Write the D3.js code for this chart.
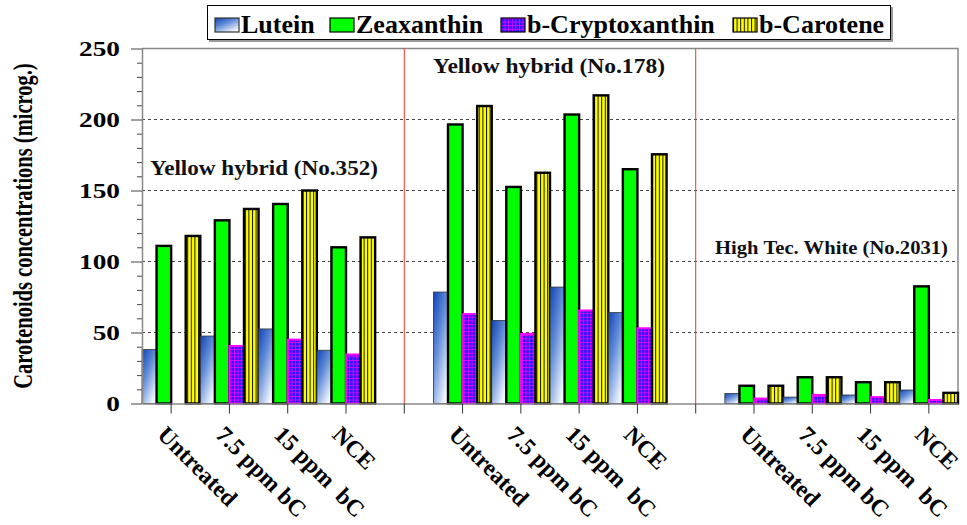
<!DOCTYPE html>
<html>
<head>
<meta charset="utf-8">
<script src="https://cdn.jsdelivr.net/npm/d3@7"></script>
<style>
    body { margin: 0; background: #fff; }
    svg { display: block; font-family: "Liberation Serif", "Times New Roman", serif; font-weight: bold; }
    text { white-space: pre; }
</style>
</head>
<body>
<svg width="967" height="525"></svg>
<script>
// chart data
const groups = ['Yellow hybrid (No.352)', 'Yellow hybrid (No.178)', 'High Tec. White (No.2031)']
const treatments = ['Untreated', '7.5 ppm bC', '15 ppm  bC', 'NCE']
const seriesNames = ['Lutein', 'Zeaxanthin', 'b-Cryptoxanthin', 'b-Carotene']

// one value per group x treatment (group-major order)
const lutein        = [38, 47.5, 52.5, 37.5,   78.5, 58.5, 82, 64,        7, 4.5, 6, 9.5]
const zeaxanthin    = [111, 129, 140.5, 110,   196.5, 152.5, 203.5, 165,  12.5, 18.5, 15, 82.5]
const cryptoxanthin = [0, 40.5, 45, 34.5,      63, 49, 65.5, 53,          3.5, 6, 4.5, 2.5]
const carotene      = [118, 137, 150, 117,     209.5, 162.5, 217, 175.5,  12.5, 18.5, 15, 7.5]

const yTicks = [0, 50, 100, 150, 200, 250]
const gridValues = [50, 100, 150, 200]

let svg = d3.select('svg')
let plot = { left: 142, right: 958, top: 48.5, bottom: 403.5 }

// 4 treatments per hybrid, with an empty slot between hybrids
let slots = []
groups.forEach((g, gi) => {
    treatments.forEach((t, ti) => {
        let i = gi * 4 + ti
        slots.push({
            key: `${gi}-${ti}`,
            label: t,
            values: [lutein[i], zeaxanthin[i], cryptoxanthin[i], carotene[i]]
        })
    })
    if (gi < groups.length - 1) slots.push({ key: `gap-${gi}`, label: '', gap: true, values: [] })
})

let scale = {
    x: d3.scaleBand().domain(slots.map(d => d.key)).range([plot.left, plot.right]).padding(0),
    y: d3.scaleLinear().domain([0, 250]).range([plot.bottom, plot.top])
}
scale.s = d3.scaleBand().domain(seriesNames).range([0, scale.x.bandwidth()])

// fills
let defs = svg.append('defs')
let grad = defs.append('linearGradient').attr('id', 'lutein-fill')
    .attr('x1', 0).attr('y1', 0).attr('x2', 0.7).attr('y2', 1)
grad.append('stop').attr('offset', '0%').attr('stop-color', '#1143b5')
grad.append('stop').attr('offset', '45%').attr('stop-color', '#5f8bd6')
grad.append('stop').attr('offset', '100%').attr('stop-color', '#f2f6ff')

let crypto = defs.append('pattern').attr('id', 'crypto-fill')
    .attr('patternUnits', 'userSpaceOnUse').attr('width', 3.6).attr('height', 3.6)
crypto.append('rect').attr('width', 3.6).attr('height', 3.6).attr('fill', '#2a18ff')
crypto.append('path').attr('d', 'M0,0.4H3.6M0.4,0V3.6')
    .attr('stroke', '#ff00ff').attr('stroke-width', 0.8)

let carot = defs.append('pattern').attr('id', 'carotene-fill')
    .attr('patternUnits', 'userSpaceOnUse').attr('width', 3.6).attr('height', 3.6)
carot.append('rect').attr('width', 3.6).attr('height', 3.6).attr('fill', '#ffff00')
carot.append('rect').attr('x', 0).attr('width', 1).attr('height', 3.6).attr('fill', '#111')

let style = {
    'Lutein': { fill: 'url(#lutein-fill)', stroke: '#333', width: 0.8 },
    'Zeaxanthin': { fill: '#00ff00', stroke: '#000', width: 2.4 },
    'b-Cryptoxanthin': { fill: 'url(#crypto-fill)', stroke: '#ff00ff', width: 2 },
    'b-Carotene': { fill: 'url(#carotene-fill)', stroke: '#000', width: 2.4 }
}

// grid lines
svg.append('g').selectAll('line')
    .data(gridValues)
    .enter()
    .append('line')
    .attr('x1', plot.left).attr('x2', plot.right)
    .attr('y1', d => scale.y(d)).attr('y2', d => scale.y(d))
    .attr('stroke', '#444').attr('stroke-width', 1.2).attr('stroke-dasharray', '3,3')

// frame (top + right)
svg.append('path')
    .attr('d', `M${plot.left},${plot.top}H${plot.right}V${plot.bottom}`)
    .attr('fill', 'none').attr('stroke', '#888').attr('stroke-width', 1.5)

// red separators
svg.append('g').selectAll('line')
    .data(slots.filter(d => d.gap))
    .enter()
    .append('line')
    .attr('x1', d => scale.x(d.key) + scale.x.bandwidth() / 2)
    .attr('x2', d => scale.x(d.key) + scale.x.bandwidth() / 2)
    .attr('y1', plot.top).attr('y2', plot.bottom)
    .attr('stroke', '#ff3030').attr('stroke-width', 1)

// bars
let bars = svg.append('g')
slots.filter(d => !d.gap).forEach(slot => {
    seriesNames.forEach((name, si) => {
        let v = slot.values[si]
        if (!v) return
        let st = style[name]
        bars.append('rect')
            .attr('x', scale.x(slot.key) + scale.s(name))
            .attr('y', scale.y(v))
            .attr('width', scale.s.bandwidth())
            .attr('height', scale.y(0) - scale.y(v))
            .attr('fill', st.fill)
            .attr('stroke', st.stroke)
            .attr('stroke-width', st.width)
    })
})

// X axis
let xAxis = svg.append('g')
    .attr('transform', `translate(0,${plot.bottom})`)
    .call(d3.axisBottom(scale.x).tickSize(10).tickSizeOuter(0).tickFormat(''))
xAxis.select('.domain').attr('stroke', '#888').attr('stroke-width', 1.5)
xAxis.selectAll('.tick line').attr('stroke', '#333')

// X labels
svg.append('g').selectAll('text')
    .data(slots.filter(d => !d.gap))
    .enter()
    .append('text')
    .attr('transform', d => `translate(${scale.x(d.key) + scale.x.bandwidth() / 2 - 15},436) rotate(45)`)
    .attr('font-size', 23.5)
    .attr('fill', '#000')
    .text(d => d.label)

// Y axis, minor ticks
let yMinor = svg.append('g')
    .attr('transform', `translate(${plot.left},0)`)
    .call(d3.axisLeft(scale.y)
        .tickValues(d3.range(0, 251, 10).filter(t => t % 50 !== 0))
        .tickSize(5).tickSizeOuter(0).tickFormat(''))
yMinor.select('.domain').remove()
yMinor.selectAll('.tick line').attr('stroke', '#444')

// Y axis, major ticks
let yAxis = svg.append('g')
    .attr('transform', `translate(${plot.left},0)`)
    .call(d3.axisLeft(scale.y).tickValues(yTicks).tickSize(11).tickSizeOuter(0))
yAxis.select('.domain').attr('stroke', '#888').attr('stroke-width', 1.5)
yAxis.selectAll('.tick line').attr('stroke', '#444')
yAxis.selectAll('.tick text')
    .attr('x', 0)
    .attr('dy', '0.34em')
    .attr('transform', 'translate(-22,0) scale(1.3,1)')
    .attr('font-size', 21)
    .attr('font-family', '"Liberation Serif", serif')
    .attr('font-weight', 'bold')
    .attr('fill', '#000')

// Y label
svg.append('text')
    .attr('transform', `translate(32,${(plot.top + plot.bottom) / 2}) scale(1.3,1) rotate(-90)`)
    .attr('text-anchor', 'middle')
    .attr('font-size', 20.5)
    .attr('fill', '#000')
    .text('Carotenoids concentrations (microg.)')

// hybrid titles
let titles = [
    { x: 150, y: 175, size: 21.5, len: 228 },
    { x: 433, y: 72.5, size: 21, len: 232 },
    { x: 715, y: 254, size: 18, len: 233 }
]
svg.append('g').selectAll('text')
    .data(groups)
    .enter()
    .append('text')
    .attr('x', (d, i) => titles[i].x)
    .attr('y', (d, i) => titles[i].y)
    .attr('font-size', (d, i) => titles[i].size)
    .attr('textLength', (d, i) => titles[i].len)
    .attr('lengthAdjust', 'spacingAndGlyphs')
    .attr('fill', '#111')
    .text(d => d)

// legend
let legend = svg.append('g')
legend.append('rect')
    .attr('x', 209).attr('y', 7).attr('width', 684).attr('height', 35)
    .attr('fill', '#999')
legend.append('rect')
    .attr('x', 207.5).attr('y', 5.5).attr('width', 683).attr('height', 34)
    .attr('fill', '#fff').attr('stroke', '#000').attr('stroke-width', 1)

let legendX = [215, 330, 501, 733]
let items = legend.selectAll('.item')
    .data(seriesNames)
    .enter()
    .append('g')
    .attr('transform', (d, i) => `translate(${legendX[i]},0)`)
items.append('rect')
    .attr('x', 0).attr('y', 18).attr('width', 24).attr('height', 14)
    .attr('fill', d => style[d].fill)
    .attr('stroke', d => d === 'Lutein' ? '#333' : '#000')
    .attr('stroke-width', 1.2)
items.append('text')
    .attr('x', 26).attr('y', 32.5)
    .attr('font-size', 26)
    .attr('fill', '#000')
    .text(d => d)
</script>
</body>
</html>
